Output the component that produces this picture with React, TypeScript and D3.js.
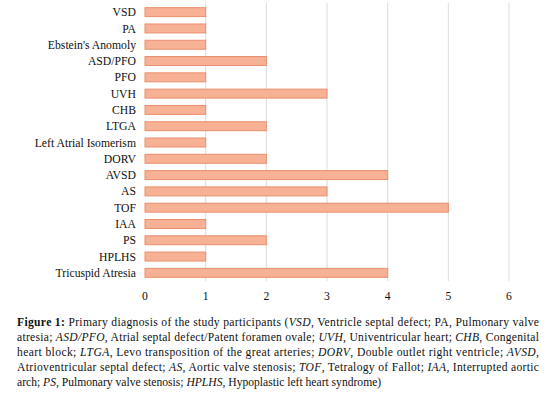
import React from 'react';
import * as d3 from 'd3';

const categories = [
  'VSD', 'PA', "Ebstein's Anomoly", 'ASD/PFO', 'PFO', 'UVH', 'CHB', 'LTGA',
  'Left Atrial Isomerism', 'DORV', 'AVSD', 'AS', 'TOF', 'IAA', 'PS', 'HPLHS',
  'Tricuspid Atresia',
];
const counts = [1, 1, 1, 2, 1, 3, 1, 2, 1, 2, 4, 3, 5, 1, 2, 1, 4];
const xTicks = [0, 1, 2, 3, 4, 5, 6];

// caption lines: [text, italic] segments
const captionLines: [string, boolean][][] = [
  [['Figure 1:', false], [' Primary diagnosis of the study participants (', false], ['VSD', true], [', Ventricle septal defect; PA, Pulmonary valve', false]],
  [['atresia; ', false], ['ASD/PFO', true], [', Atrial septal defect/Patent foramen ovale; ', false], ['UVH', true], [', Univentricular heart; ', false], ['CHB', true], [', Congenital', false]],
  [['heart block; ', false], ['LTGA', true], [', Levo transposition of the great arteries; ', false], ['DORV', true], [', Double outlet right ventricle; ', false], ['AVSD', true], [',', false]],
  [['Atrioventricular septal defect; ', false], ['AS', true], [', Aortic valve stenosis; ', false], ['TOF', true], [', Tetralogy of Fallot; ', false], ['IAA', true], [', Interrupted aortic', false]],
  [['arch; ', false], ['PS', true], [', Pulmonary valve stenosis; ', false], ['HPLHS', true], [', Hypoplastic left heart syndrome)', false]],
];

const fontStyle = { fontFamily: "'Liberation Serif'" };

const App: React.FC = () => {
  const x = d3.scaleLinear().domain([0, 6]).range([145, 509]);
  const y = d3.scaleBand().domain(categories).range([4, 281]).paddingInner(0.45).paddingOuter(0.225);

  return (
    <svg width={554} height={395} style={{ position: 'absolute', left: 0, top: 0 }}>
      {/* gridlines */}
      <g>
        {xTicks.slice(1).map(t => (
          <line key={t} x1={x(t)} x2={x(t)} y1={3} y2={281} stroke="#dcdcdc" strokeWidth={1} />
        ))}
      </g>
      {/* bars */}
      <g>
        {counts.map((v, i) => (
          <rect key={categories[i]} x={x(0)} y={y(categories[i]) || 0} width={x(v) - x(0)} height={y.bandwidth()}
            fill="#f7b195" stroke="#e98f6d" strokeWidth={1} />
        ))}
      </g>
      {/* category labels */}
      <g>
        {categories.map(c => (
          <text key={c} x={136} y={(y(c) || 0) + y.bandwidth() / 2} dy="0.35em" textAnchor="end"
            fontSize={11.7} fill="#111" style={fontStyle}>{c}</text>
        ))}
      </g>
      {/* x tick labels */}
      <g>
        {xTicks.map(t => (
          <text key={t} x={x(t)} y={300} textAnchor="middle" fontSize={11.7} fill="#111" style={fontStyle}>{t}</text>
        ))}
      </g>
      {/* caption */}
      <g>
        {captionLines.map((segs, i) => (
          <text key={i} x={17} y={326 + i * 15} fontSize={11.6} fill="#111" style={fontStyle}
            {...(i < captionLines.length - 1 ? { textLength: 522, lengthAdjust: 'spacing' } : {})}>
            {segs.map(([s, it], j) => (
              <tspan key={j} fontStyle={it ? 'italic' : undefined} fontWeight={i === 0 && j === 0 ? 'bold' : undefined}>{s}</tspan>
            ))}
          </text>
        ))}
      </g>
    </svg>
  );
};

export default App;
